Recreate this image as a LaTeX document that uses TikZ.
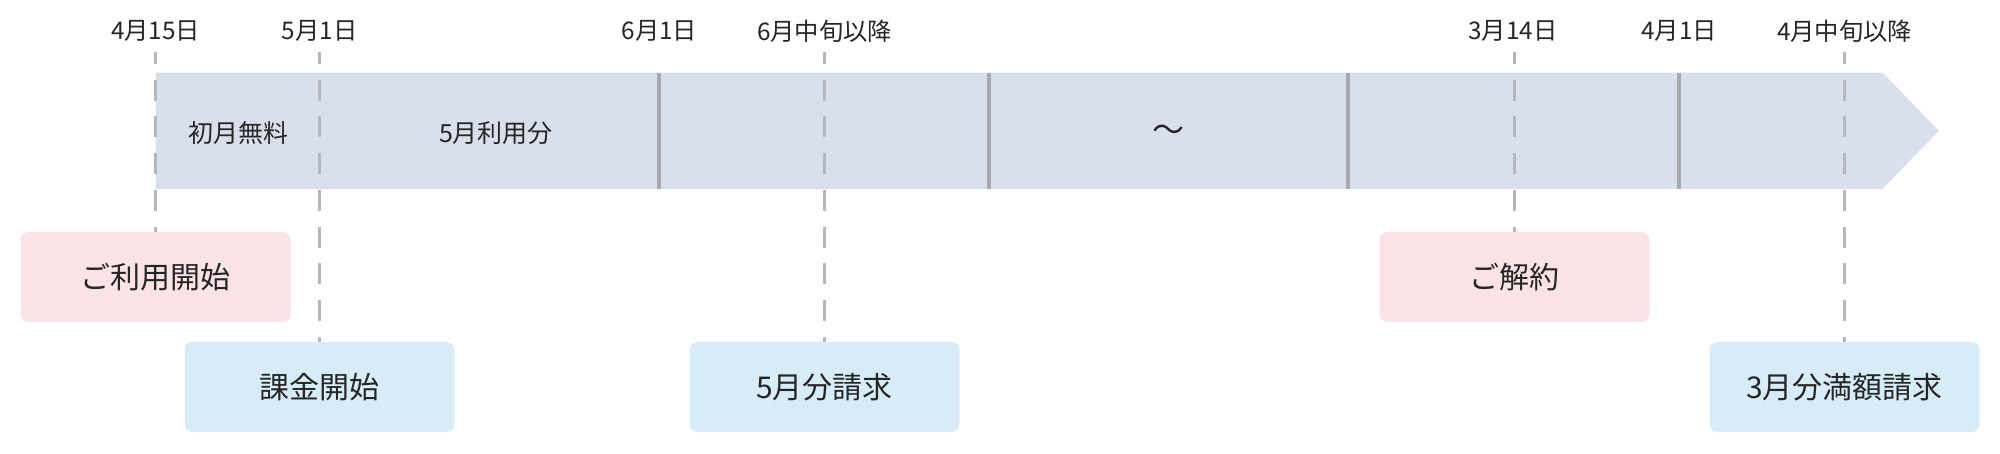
\documentclass[tikz,border=0pt]{standalone}
\usepackage{fontspec}
\newfontfamily\jp{Noto Sans CJK JP}
\definecolor{bandc}{HTML}{D9E0EC}
\definecolor{dividerc}{HTML}{A6A9AD}
\definecolor{dashc}{HTML}{B4B7BB}
\definecolor{pinkbox}{HTML}{FAE3E7}
\definecolor{bluebox}{HTML}{D8ECF8}
\definecolor{txt}{HTML}{262626}
\begin{document}
\begin{tikzpicture}[x=1pt,y=-1pt,
  datelabel/.style={font=\jp\fontsize{24.3}{28}\selectfont, text=txt, inner sep=0pt},
  bandlabel/.style={font=\jp\fontsize{25}{29}\selectfont, text=txt, inner sep=0pt},
  eventbox/.style={minimum width=270pt, minimum height=90pt, rounded corners=8pt,
    font=\jp\fontsize{30}{35}\selectfont, text=txt, inner sep=0pt},
  startbox/.style={eventbox, fill=pinkbox},
  billbox/.style={eventbox, fill=bluebox},
  guide/.style={draw=dashc, line width=2.4pt, dash pattern=on 21pt off 15.7pt, dash phase=9pt},
  divline/.style={draw=dividerc, line width=4pt}]
\useasboundingbox (0,0) rectangle (2000,453);
\fill[white] (0,0) rectangle (2000,453);
% band arrow
\fill[bandc] (155.6,72.7) -- (1882.6,72.7) -- (1938.8,130.7) -- (1882.6,188.8) -- (155.6,188.8) -- cycle;
% month dividers
\draw[divline] (659.4,72.7) -- (659.4,188.8);
\draw[divline] (989,72.7) -- (989,188.8);
\draw[divline] (1348,72.7) -- (1348,188.8);
\draw[divline] (1679,72.7) -- (1679,188.8);
% event boxes
\node[startbox] (start) at (155.6,277) {ご利用開始};
\node[billbox] (charge) at (319.6,387) {課金開始};
\node[billbox] (bill5) at (824.5,387) {5月分請求};
\node[startbox] (cancel) at (1514.5,277) {ご解約};
\node[billbox] (bill3) at (1844.6,387) {3月分満額請求};
% guide tops
\coordinate (t1) at (155.6,52);
\coordinate (t2) at (319.6,52);
\coordinate (t3) at (824.5,52);
\coordinate (t4) at (1514.5,52);
\coordinate (t5) at (1844.6,52);
\draw[guide] (t1) -- (start.north);
\draw[guide] (t2) -- (charge.north);
\draw[guide] (t3) -- (bill5.north);
\draw[guide] (t4) -- (cancel.north);
\draw[guide] (t5) -- (bill3.north);
% date labels
\node[datelabel] (d1) at (155.6,31) {4月15日};
\node[datelabel] (d2) at (319.6,31) {5月1日};
\node[datelabel] (d3) at (659.4,31) {6月1日};
\node[datelabel] (d4) at (824.5,31) {6月中旬以降};
\node[datelabel] (d5) at (1513,31) {3月14日};
\node[datelabel] (d6) at (1679,31) {4月1日};
\node[datelabel] (d7) at (1844.6,31) {4月中旬以降};
% band labels
\node[bandlabel] (b1) at (238.5,133) {初月無料};
\node[bandlabel] (b2) at (496,133) {5月利用分};
\node[font=\jp\fontsize{32}{36}\selectfont, text=txt, inner sep=0pt] (b3) at (1168,133) {～};
\end{tikzpicture}
\end{document}
